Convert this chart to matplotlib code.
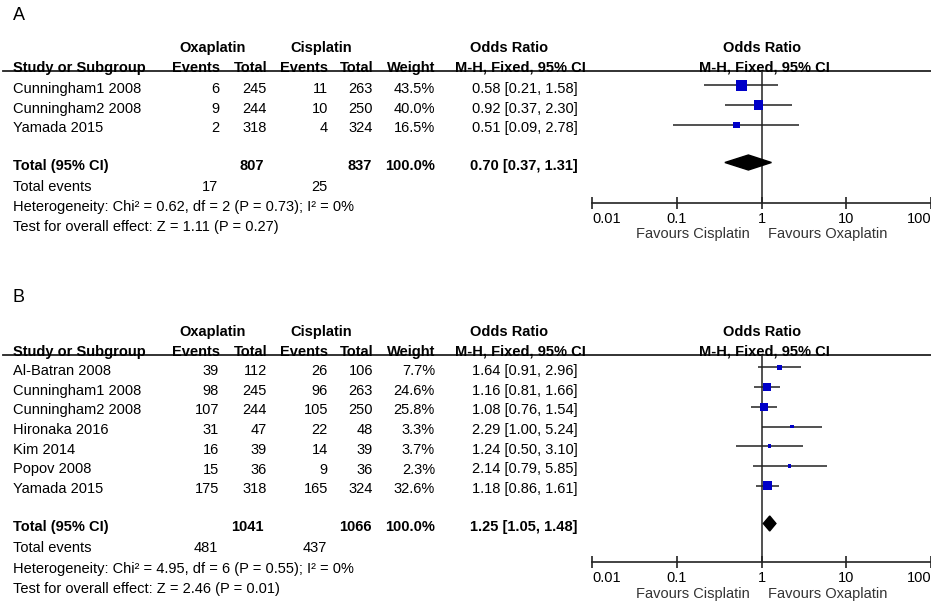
import numpy as np
import matplotlib
matplotlib.use('Agg')
import matplotlib.pyplot as plt

plt.rcParams['font.family'] = ['Liberation Sans', 'DejaVu Sans']
FS = 10.5
BLUE = '#0000c8'

# Panel A data
a_study = ['Cunningham1 2008', 'Cunningham2 2008', 'Yamada 2015']
a_ox_events = [6, 9, 2]
a_ox_total = [245, 244, 318]
a_cis_events = [11, 10, 4]
a_cis_total = [263, 250, 324]
a_weight = [43.5, 40.0, 16.5]
a_or = [0.58, 0.92, 0.51]
a_lo = [0.21, 0.37, 0.09]
a_hi = [1.58, 2.30, 2.78]
a_total_n = [807, 837]
a_total_events = [17, 25]
a_pooled = [0.70, 0.37, 1.31]
a_het = 'Heterogeneity: Chi² = 0.62, df = 2 (P = 0.73); I² = 0%'
a_test = 'Test for overall effect: Z = 1.11 (P = 0.27)'

# Panel B data
b_study = ['Al-Batran 2008', 'Cunningham1 2008', 'Cunningham2 2008',
           'Hironaka 2016', 'Kim 2014', 'Popov 2008', 'Yamada 2015']
b_ox_events = [39, 98, 107, 31, 16, 15, 175]
b_ox_total = [112, 245, 244, 47, 39, 36, 318]
b_cis_events = [26, 96, 105, 22, 14, 9, 165]
b_cis_total = [106, 263, 250, 48, 39, 36, 324]
b_weight = [7.7, 24.6, 25.8, 3.3, 3.7, 2.3, 32.6]
b_or = [1.64, 1.16, 1.08, 2.29, 1.24, 2.14, 1.18]
b_lo = [0.91, 0.81, 0.76, 1.00, 0.50, 0.79, 0.86]
b_hi = [2.96, 1.66, 1.54, 5.24, 3.10, 5.85, 1.61]
b_total_n = [1041, 1066]
b_total_events = [481, 437]
b_pooled = [1.25, 1.05, 1.48]
b_het = 'Heterogeneity: Chi² = 4.95, df = 6 (P = 0.55); I² = 0%'
b_test = 'Test for overall effect: Z = 2.46 (P = 0.01)'

tick_vals = [0.01, 0.1, 1, 10, 100]
tick_text = ['0.01', '0.1', '1', '10', '100']

W, H = 931, 601
fig = plt.figure(figsize=(W / 100, H / 100), dpi=100)
bg = fig.add_axes([0, 0, 1, 1])
bg.set_xlim(0, W)
bg.set_ylim(H, 0)
bg.axis('off')

# column right edges (px)
COL_OXE, COL_OXT, COL_CIE, COL_CIT, COL_W, COL_CI = 219, 267, 328, 373, 435, 578
PLOT_L, PLOT_R = 592, 931


def draw_panel(label, y_label, y_line, y_row0, y_total, y_axis, y_ticklab,
               study, oxe, oxt, cie, cit, wt, orr, lo, hi,
               tot_n, tot_ev, pooled, het, test):
    step = 19.7
    rows = y_row0 + step * np.arange(len(study))
    y_h1, y_h2 = y_line - 23, y_line - 3

    bg.text(13, y_label, label, fontsize=13, va='center', ha='left')

    # headers
    hb = dict(fontsize=FS, fontweight='bold', va='center')
    bg.text(213, y_h1, 'Oxaplatin', ha='center', **hb)
    bg.text(321, y_h1, 'Cisplatin', ha='center', **hb)
    bg.text(509, y_h1, 'Odds Ratio', ha='center', **hb)
    bg.text(762, y_h1, 'Odds Ratio', ha='center', **hb)
    bg.text(13, y_h2, 'Study or Subgroup', ha='left', **hb)
    bg.text(COL_OXE + 1, y_h2, 'Events', ha='right', **hb)
    bg.text(COL_OXT, y_h2, 'Total', ha='right', **hb)
    bg.text(COL_CIE, y_h2, 'Events', ha='right', **hb)
    bg.text(COL_CIT, y_h2, 'Total', ha='right', **hb)
    bg.text(COL_W, y_h2, 'Weight', ha='right', **hb)
    bg.text(520, y_h2, 'M-H, Fixed, 95% CI', ha='center', **hb)
    bg.text(764, y_h2, 'M-H, Fixed, 95% CI', ha='center', **hb)
    bg.plot([3, W], [y_line, y_line], color='#222222', lw=1.3)

    # study rows
    nb = dict(fontsize=FS, va='center')
    for i, y in enumerate(rows):
        bg.text(13, y, study[i], ha='left', **nb)
        bg.text(COL_OXE, y, str(oxe[i]), ha='right', **nb)
        bg.text(COL_OXT, y, str(oxt[i]), ha='right', **nb)
        bg.text(COL_CIE, y, str(cie[i]), ha='right', **nb)
        bg.text(COL_CIT, y, str(cit[i]), ha='right', **nb)
        bg.text(COL_W, y, f'{wt[i]:.1f}%', ha='right', **nb)
        bg.text(COL_CI, y, f'{orr[i]:.2f} [{lo[i]:.2f}, {hi[i]:.2f}]', ha='right', **nb)

    # totals
    tb = dict(fontsize=FS, va='center', fontweight='bold')
    bg.text(13, y_total, 'Total (95% CI)', ha='left', **tb)
    bg.text(COL_OXT - 3, y_total, str(tot_n[0]), ha='right', **tb)
    bg.text(COL_CIT - 1, y_total, str(tot_n[1]), ha='right', **tb)
    bg.text(COL_W, y_total, '100.0%', ha='right', **tb)
    bg.text(COL_CI, y_total,
            f'{pooled[0]:.2f} [{pooled[1]:.2f}, {pooled[2]:.2f}]', ha='right', **tb)
    y_ev = y_total + 21
    bg.text(13, y_ev, 'Total events', ha='left', **nb)
    bg.text(COL_OXE - 1, y_ev, str(tot_ev[0]), ha='right', **nb)
    bg.text(COL_CIE - 1, y_ev, str(tot_ev[1]), ha='right', **nb)
    bg.text(13, y_ev + 20.5, het, ha='left', **nb)
    bg.text(13, y_ev + 40.5, test, ha='left', **nb)

    # forest plot axes, y in the same pixel units as the table
    ax = fig.add_axes([PLOT_L / W, 1 - y_axis / H,
                       (PLOT_R - PLOT_L) / W, (y_axis - y_line) / H])
    ax.set_xscale('log')
    ax.set_xlim(0.01, 100)
    ax.set_ylim(y_axis, y_line)
    ax.patch.set_alpha(0)
    for s in ['top', 'left', 'right']:
        ax.spines[s].set_visible(False)
    ax.spines['bottom'].set_linewidth(1.2)
    ax.spines['bottom'].set_color('#222222')
    ax.set_yticks([])
    ax.set_xticks(tick_vals)
    ax.set_xticklabels(tick_text)
    ax.minorticks_off()
    ax.tick_params(axis='x', direction='inout', length=9, width=1.2,
                   color='#222222', labelsize=FS, pad=2)
    # end labels sit inside the axis span
    labs = ax.get_xticklabels()
    labs[0].set_horizontalalignment('left')
    labs[-1].set_horizontalalignment('right')
    ax.axvline(1, color='#222222', lw=1.1)

    my = rows - 3.5
    ax.hlines(my, lo, hi, color='#222222', lw=1.1)
    # square area grows with study weight
    ax.scatter(orr, my, marker='s', s=3 + np.array(wt) * 1.15, color=BLUE,
               edgecolors='none', zorder=3)
    yd = y_total - 3.5
    hd = 7.5
    ax.fill([pooled[1], pooled[0], pooled[2], pooled[0]],
            [yd, yd - hd, yd, yd + hd], color='black', zorder=3)

    y_fav = y_ticklab + 16
    bg.text(750, y_fav, 'Favours Cisplatin', ha='right', va='center',
            fontsize=FS, color='#333333')
    bg.text(768, y_fav, 'Favours Oxaplatin', ha='left', va='center',
            fontsize=FS, color='#333333')


draw_panel('A', 15, 71, 89, 166, 203, 218,
           a_study, a_ox_events, a_ox_total, a_cis_events, a_cis_total,
           a_weight, a_or, a_lo, a_hi, a_total_n, a_total_events, a_pooled,
           a_het, a_test)
draw_panel('B', 297, 355, 371, 527, 562, 578,
           b_study, b_ox_events, b_ox_total, b_cis_events, b_cis_total,
           b_weight, b_or, b_lo, b_hi, b_total_n, b_total_events, b_pooled,
           b_het, b_test)

fig.savefig('out.png', dpi=100)
